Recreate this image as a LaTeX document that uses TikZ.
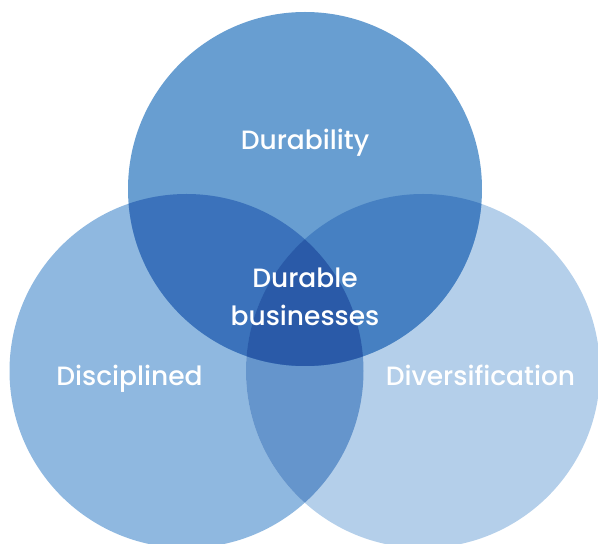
\documentclass[tikz,border=0pt]{standalone}
\usepackage{fontspec}
\setmainfont{Poppins}[UprightFont=* Medium]
\definecolor{ctop}{HTML}{689ED1}
\definecolor{cleft}{HTML}{8FB8E0}
\definecolor{cright}{HTML}{B4CFEA}
\definecolor{ctl}{HTML}{3B72BB}
\definecolor{ctr}{HTML}{4680C2}
\definecolor{clr}{HTML}{6595CC}
\definecolor{call}{HTML}{2A5AA8}
\begin{document}
\begin{tikzpicture}[x=1pt,y=1pt,
  lbl/.style={text=white,font=\fontsize{26.5}{38}\selectfont,align=center,inner sep=0pt}]
\useasboundingbox (0,0) rectangle (598,544);
\clip (0,0) rectangle (598,544);
\coordinate (T) at (305,355);
\coordinate (L) at (186.5,173);
\coordinate (R) at (423,173);
\def\rr{177}
\fill[cleft] (L) circle (\rr);
\fill[cright] (R) circle (\rr);
\fill[ctop] (T) circle (\rr);
\begin{scope}
  \clip (L) circle (\rr);
  \fill[clr] (R) circle (\rr);
\end{scope}
\begin{scope}
  \clip (T) circle (\rr);
  \fill[ctl] (L) circle (\rr);
\end{scope}
\begin{scope}
  \clip (T) circle (\rr);
  \fill[ctr] (R) circle (\rr);
\end{scope}
\begin{scope}
  \clip (T) circle (\rr);
  \clip (L) circle (\rr);
  \fill[call] (R) circle (\rr);
\end{scope}
\node[lbl,anchor=base] (dur) at (305,394) {Durability};
\node[lbl,anchor=base] (cen) at (305,218) {Durable\\businesses};
\node[lbl,anchor=base] (dis) at (129.5,158) {Disciplined};
\node[lbl,anchor=base] (div) at (480.5,158) {Diversification};
\end{tikzpicture}
\end{document}
